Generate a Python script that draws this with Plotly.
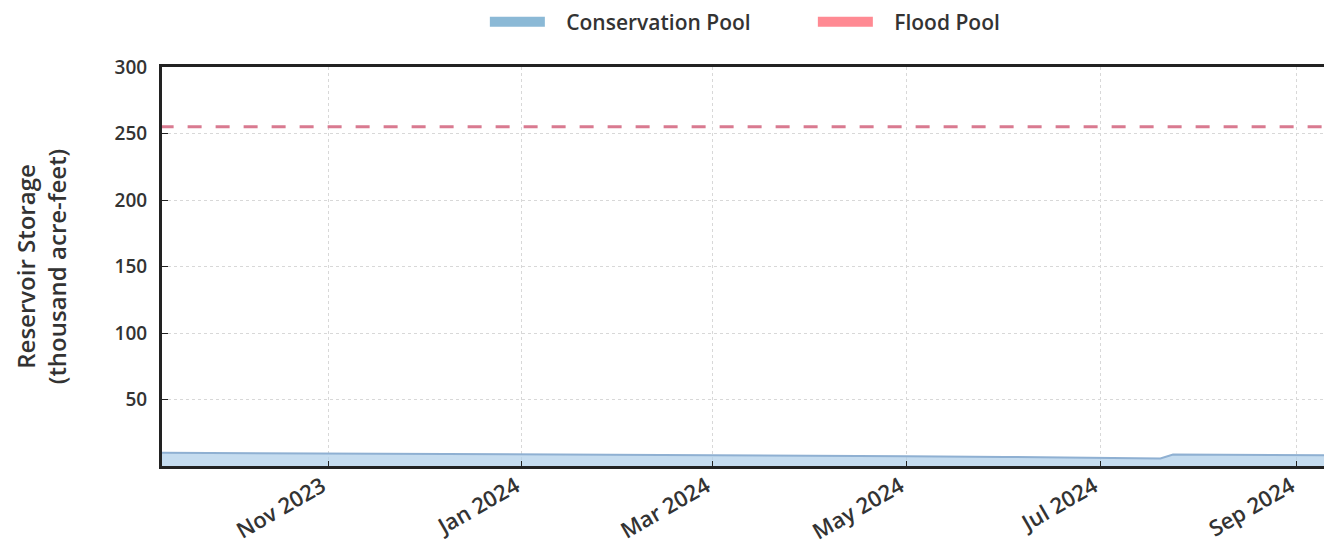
import plotly.graph_objects as go

# Conservation pool storage (thousand acre-feet)
cons_dates = ["2023-09-09", "2023-10-01", "2023-11-01", "2023-12-01", "2024-01-01",
              "2024-02-01", "2024-03-01", "2024-04-01", "2024-05-01", "2024-06-01",
              "2024-07-01", "2024-07-20", "2024-07-24", "2024-08-15", "2024-09-01",
              "2024-09-15"]
cons_values = [10.0, 9.8, 9.3, 9.0, 8.7, 8.5, 8.3, 7.9, 7.4, 6.8, 6.0, 5.6, 8.6, 8.4, 8.1, 8.0]

# Flood pool level
flood_dates = ["2023-09-09", "2024-09-15"]
flood_values = [255, 255]

y_ticks = [50, 100, 150, 200, 250, 300]
x_ticks = ["2023-11-01", "2024-01-01", "2024-03-01", "2024-05-01", "2024-07-01", "2024-09-01"]
x_labels = ["Nov 2023", "Jan 2024", "Mar 2024", "May 2024", "Jul 2024", "Sep 2024"]

FONT = "Open Sans"
TXT = "#333333"
PAD = "\u00a0\u00a0\u00a0"

fig = go.Figure()
fig.add_trace(go.Scatter(
    x=cons_dates, y=cons_values, mode="lines", fill="tozeroy",
    line=dict(color="#8fb0d2", width=2), fillcolor="rgba(178,208,234,0.75)",
    name="Conservation Pool", showlegend=False))
fig.add_trace(go.Scatter(
    x=flood_dates, y=flood_values, mode="lines",
    line=dict(color="#d97a90", width=3, dash="14px,14px"),
    name="Flood Pool", showlegend=False))

# legend swatches
fig.add_trace(go.Scatter(x=[None], y=[None], mode="lines",
                         line=dict(color="#8bb9d6", width=16), name=PAD + "Conservation Pool"))
fig.add_trace(go.Scatter(x=[None], y=[None], mode="lines",
                         line=dict(color="#ff8a93", width=16), name=PAD + "Flood Pool"))

fig.update_layout(
    width=1332, height=546,
    margin=dict(l=154, r=0, t=59, b=88, autoexpand=False),
    paper_bgcolor="white", plot_bgcolor="white",
    font=dict(family=FONT, size=19, color=TXT),
    legend=dict(orientation="h", xref="container", x=0.358, xanchor="left",
                yref="container", y=0.974, yanchor="middle", itemwidth=55,
                entrywidth=258, entrywidthmode="pixels",
                font=dict(family=FONT, size=21, color=TXT, weight=600)),
)
fig.update_xaxes(
    type="date", range=["2023-09-09 18:00", "2024-09-14 13:00"], automargin=False,
    tickvals=x_ticks, ticktext=x_labels, tickangle=-30,
    ticklabelshift=-6, ticklabelstandoff=-4,
    tickfont=dict(family=FONT, size=22, color=TXT, weight=600),
    showgrid=True, gridcolor="#d8d8d8", griddash="dot", gridwidth=1,
    showline=True, linecolor="#222222", linewidth=3, mirror=True,
    ticks="inside", ticklen=5, tickcolor="#222222", zeroline=False)
fig.update_yaxes(
    range=[0, 300], tickvals=y_ticks, automargin=True, ticklabelstandoff=8,
    tickfont=dict(family=FONT, size=19, color=TXT, weight=600),
    title=dict(text="Reservoir Storage<br>(thousand acre-feet)",
               font=dict(family=FONT, size=24, color=TXT, weight=600), standoff=42),
    showgrid=True, gridcolor="#d8d8d8", griddash="dot", gridwidth=1,
    showline=True, linecolor="#222222", linewidth=3, mirror=False,
    ticks="inside", ticklen=6, tickcolor="#222222", zeroline=False)

fig.write_html("out.html")
